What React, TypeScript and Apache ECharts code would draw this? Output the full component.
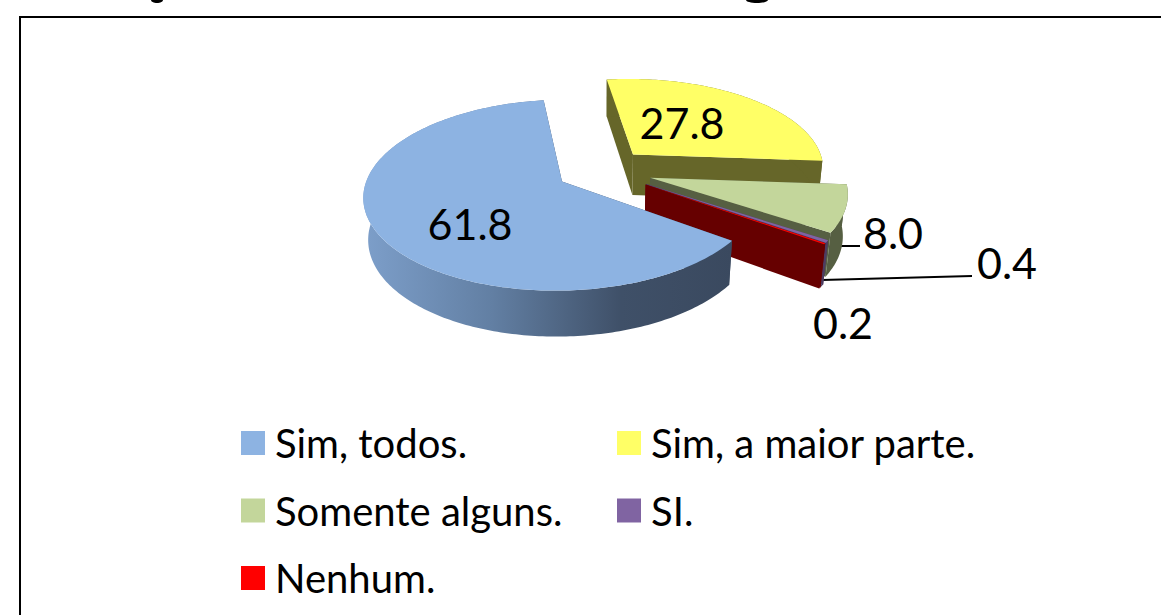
import React, { useEffect, useRef } from "react";
import * as echarts from "echarts";

const categories = ["Sim, todos.", "Sim, a maior parte.", "Somente alguns.", "SI.", "Nenhum."];
const values = [61.8, 27.8, 8.0, 0.4, 0.2];
const topColors = ["#8db3e2", "#ffff66", "#c3d69b", "#8064a2", "#ff0000"];
const wallColors = ["#3b4a60", "#666629", "#565f42", "#4d3c61", "#660000"];
const explode = [0.24, 0.24, 0.26, 0.27, 0.27];
const labelPos: [number, number][] = [[470, 223], [682, 122], [893, 232], [1007, 262], [843, 322]];
const leaderLines: (number[] | null)[] = [null, null, [840, 246, 860, 246], [822, 280, 972, 276], null];
const drawOrder = [1, 2, 3, 4, 0];

const FONT = "Lato, 'Open Sans', sans-serif";
const START_DEG = 125.6;
const CX = 602.2, CY = 170, R = 192.3, B = 90.3, H = 42, K = 0.141, M = 0.02;

const total = values.reduce((a, b) => a + b, 0);

function project(u: number, v: number, z: number): number[] {
  const w = 1 - K * v + M * z;
  return [CX + (R * u) / w, CY + (B * v + H * z) / w];
}

function sliceAngles(i: number): [number, number] {
  let a = START_DEG;
  for (let j = 0; j < i; j++) a += (values[j] / total) * 360;
  return [a, a + (values[i] / total) * 360];
}

function renderSlice(i: number) {
  const [a0, a1] = sliceAngles(i);
  const mid = (((a0 + a1) / 2) * Math.PI) / 180;
  const ou = Math.sin(mid) * explode[i];
  const ov = -Math.cos(mid) * explode[i];
  const arc = (z: number) => {
    const pts: number[][] = [];
    const n = Math.max(4, Math.ceil(a1 - a0));
    for (let s = 0; s <= n; s++) {
      const t = ((a0 + ((a1 - a0) * s) / n) * Math.PI) / 180;
      pts.push(project(ou + Math.sin(t), ov - Math.cos(t), z));
    }
    return pts;
  };
  const apexT = project(ou, ov, 0);
  const apexB = project(ou, ov, 1);
  const top = arc(0);
  const bot = arc(1);
  const wall = wallColors[i];
  const outerFill =
    i === 0
      ? new echarts.graphic.LinearGradient(0, 0, 1, 0, [
          { offset: 0, color: "#7d9fca" },
          { offset: 0.35, color: "#627fa3" },
          { offset: 0.7, color: "#3f5068" },
          { offset: 1, color: "#3a495f" },
        ])
      : wall;
  const children: any[] = [];
  const line = leaderLines[i];
  if (line) {
    children.push({
      type: "line",
      shape: { x1: line[0], y1: line[1], x2: line[2], y2: line[3] },
      style: { stroke: "#000", lineWidth: 2 },
    });
  }
  children.push(
    { type: "polygon", shape: { points: [apexT, top[0], bot[0], apexB] }, style: { fill: wall } },
    { type: "polygon", shape: { points: [apexT, top[top.length - 1], bot[bot.length - 1], apexB] }, style: { fill: wall } },
    { type: "polygon", shape: { points: [...top, ...bot.slice().reverse()] }, style: { fill: outerFill } },
    { type: "polygon", shape: { points: [apexT, ...top] }, style: { fill: topColors[i] } },
    {
      type: "text",
      style: {
        text: values[i].toFixed(1),
        x: labelPos[i][0],
        y: labelPos[i][1],
        align: "center",
        verticalAlign: "middle",
        fill: "#000",
        font: `43px ${FONT}`,
      },
    }
  );
  return { type: "group", children };
}

export default function App() {
  const ref = useRef<HTMLDivElement>(null);
  useEffect(() => {
    document.body.style.margin = "0";
    const chart = echarts.init(ref.current!, null, { renderer: "svg" });
    const legendBase = {
      orient: "vertical" as const,
      icon: "rect",
      itemWidth: 24,
      itemHeight: 24,
      itemGap: 25.5,
      textStyle: { fontFamily: FONT, fontSize: 40, color: "#000", padding: [0, 0, 0, 5], lineHeight: 42 },
    };
    chart.setOption({
      animation: false,
      backgroundColor: "#fff",
      graphic: [
        {
          type: "rect",
          shape: { x: 20, y: 17, width: 1300, height: 800 },
          style: { fill: "none", stroke: "#000", lineWidth: 2 },
          silent: true,
        },
        { type: "ellipse", shape: { cx: 157, cy: 0, rx: 6, ry: 3 }, style: { fill: "#000" }, silent: true },
        { type: "ellipse", shape: { cx: 757, cy: 0, rx: 11, ry: 3 }, style: { fill: "#000" }, silent: true },
      ],
      legend: [
        { ...legendBase, left: 236, top: 417, data: [categories[0], categories[2], categories[4]] },
        { ...legendBase, left: 612, top: 417, data: [categories[1], categories[3]] },
      ],
      series: drawOrder.map((i, order) => ({
        type: "custom",
        name: categories[i],
        coordinateSystem: "none",
        z: 2 + order,
        itemStyle: { color: topColors[i] },
        data: [[values[i]]],
        renderItem: () => renderSlice(i),
      })),
    });
    return () => chart.dispose();
  }, []);
  return <div ref={ref} style={{ width: 1161, height: 615 }} />;
}
